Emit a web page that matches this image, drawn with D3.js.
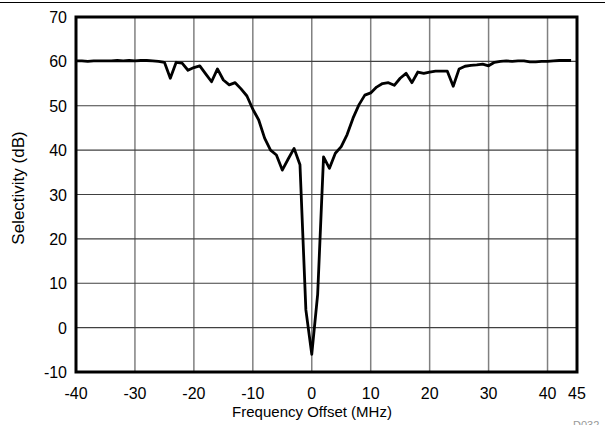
<!DOCTYPE html>
<html lang="en">
<head>
    <meta charset="UTF-8">
    <title>Selectivity</title>
    <script src="https://d3js.org/d3.v7.min.js"></script>
    <style>
        body { margin: 0; background: #fff; }
        svg { display: block; font-family: "Liberation Sans", Arial, sans-serif; }
    </style>
</head>
<body>
    <svg width="605" height="425"></svg>
    <script>
        // frequency offset (MHz), 1 MHz steps
        var freqs = d3.range(-40, 45);
        // selectivity (dB)
        var selectivity = [
            60.1, 60.1, 60.0, 60.1, 60.1, 60.1, 60.1, 60.2, 60.1, 60.2,
            60.1, 60.2, 60.2, 60.1, 60.0, 59.8, 56.2, 59.8, 59.6, 58.0,
            58.6, 59.0, 57.2, 55.4, 58.3, 55.8, 54.7, 55.2, 53.8, 52.2,
            49.2, 46.8, 42.7, 40.0, 38.9, 35.5, 38.0, 40.4, 36.7, 4.0,
            -6.0, 7.5, 38.5, 35.9, 39.3, 40.8, 43.5, 47.2, 50.2, 52.4,
            52.9, 54.2, 55.0, 55.2, 54.6, 56.2, 57.3, 55.2, 57.6, 57.3,
            57.6, 57.8, 57.8, 57.8, 54.4, 58.3, 58.9, 59.1, 59.2, 59.4,
            59.0, 59.8, 60.0, 60.1, 60.0, 60.1, 60.1, 59.9, 59.9, 60.0,
            60.0, 60.1, 60.2, 60.2, 60.2
        ];
        var xTicks = [-40, -30, -20, -10, 0, 10, 20, 30, 40, 45];
        var yTicks = [-10, 0, 10, 20, 30, 40, 50, 60, 70];

        var data = freqs.map((f, i) => ({ f: f, db: selectivity[i] }));

        var pl = 76, pr = 577, pt = 17, pb = 372;
        var x = d3.scaleLinear().domain([-40, 45]).range([pl, pr]);
        var y = d3.scaleLinear().domain([-10, 70]).range([pb, pt]);

        var svg = d3.select('svg');

        // rule across the top of the figure
        svg.append('line')
            .attr('x1', 0).attr('x2', 605)
            .attr('y1', 2.5).attr('y2', 2.5)
            .style('stroke', '#000').style('stroke-width', 1);

        // grid
        svg.append('g').selectAll('line')
            .data(xTicks.filter(t => t > -40 && t < 45))
            .enter().append('line')
            .attr('x1', d => x(d)).attr('x2', d => x(d))
            .attr('y1', pt).attr('y2', pb)
            .style('stroke', '#808080').style('stroke-width', 1.5);

        svg.append('g').selectAll('line')
            .data(yTicks.filter(t => t > -10 && t < 70))
            .enter().append('line')
            .attr('x1', pl).attr('x2', pr)
            .attr('y1', d => y(d)).attr('y2', d => y(d))
            .style('stroke', '#404040').style('stroke-width', 1.2);

        // curve
        var line = d3.line().x(d => x(d.f)).y(d => y(d.db));
        svg.append('path')
            .datum(data)
            .attr('d', line)
            .style('fill', 'none')
            .style('stroke', '#000')
            .style('stroke-width', 2.8)
            .style('stroke-linejoin', 'round');

        // frame
        svg.append('rect')
            .attr('x', pl).attr('y', pt)
            .attr('width', pr - pl).attr('height', pb - pt)
            .style('fill', 'none').style('stroke', '#000').style('stroke-width', 3);

        // tick labels
        svg.append('g').selectAll('text')
            .data(xTicks)
            .enter().append('text')
            .attr('x', d => x(d))
            .attr('y', 399)
            .attr('text-anchor', 'middle')
            .style('font-size', '16px')
            .text(d => d);

        svg.append('g').selectAll('text')
            .data(yTicks)
            .enter().append('text')
            .attr('x', 67)
            .attr('y', d => y(d) + 6)
            .attr('text-anchor', 'end')
            .style('font-size', '16px')
            .text(d => d);

        // axis titles
        svg.append('text')
            .attr('x', 312)
            .attr('y', 417)
            .attr('text-anchor', 'middle')
            .style('font-size', '15px')
            .text('Frequency Offset (MHz)');

        svg.append('text')
            .attr('transform', 'translate(24,188) rotate(-90)')
            .attr('text-anchor', 'middle')
            .style('font-size', '17px')
            .text('Selectivity (dB)');

        svg.append('text')
            .attr('x', 573)
            .attr('y', 429)
            .style('font-size', '11px')
            .style('fill', '#999')
            .text('D032');
    </script>
</body>
</html>
